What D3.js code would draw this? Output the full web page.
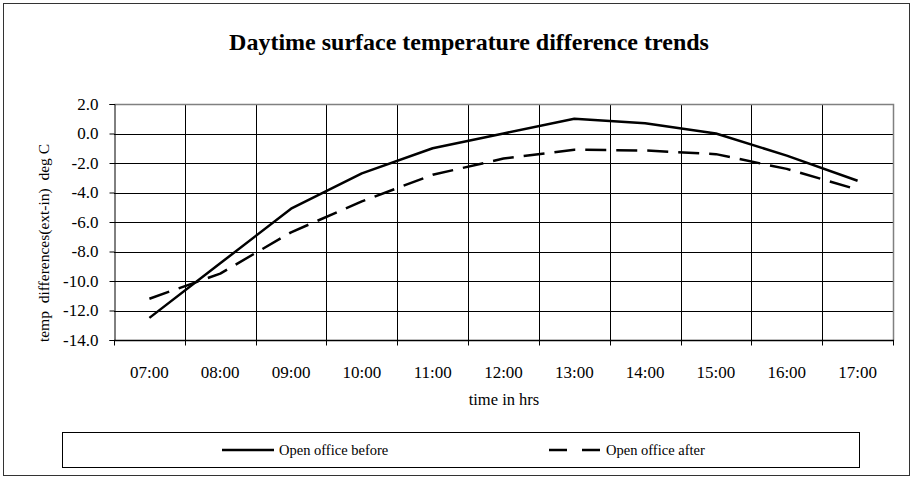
<!DOCTYPE html>
<html>
  <head>
    <meta charset="utf-8">
    <style>
      body { margin: 0; background: #fff; }
      svg { display: block; font-family: "Liberation Serif", "Times New Roman", serif; }
      .grid line { stroke: #000; stroke-width: 1px; shape-rendering: crispEdges; }
      .tick-lbl { font-size: 17px; fill: #000; }
      .series { fill: none; stroke: #000; stroke-width: 2.5px; stroke-linejoin: round; }
    </style>
  </head>
  <body>
    <svg id="chart"></svg>
    <script src="https://cdnjs.cloudflare.com/ajax/libs/d3/7.8.5/d3.min.js"></script>
    <script>
      var hours = ["07:00","08:00","09:00","10:00","11:00","12:00","13:00","14:00","15:00","16:00","17:00"];
      var before = [-12.5, -8.8, -5.1, -2.7, -1.0, 0.0, 1.0, 0.7, 0.0, -1.5, -3.2];
      var after = [-11.2, -9.5, -6.7, -4.6, -2.8, -1.7, -1.1, -1.15, -1.4, -2.4, -3.8];
      var yTicks = [2, 0, -2, -4, -6, -8, -10, -12, -14];
      var seriesNames = ["Open office before", "Open office after"];

      var W = 914, H = 479,
          plot = {left: 114, right: 893, top: 104, bottom: 340};

      var svg = d3.select("#chart").attr("width", W).attr("height", H);

      // outer chart border
      svg.append("rect")
         .attr("x", 3.5).attr("y", 3.5).attr("width", 906).attr("height", 472)
         .style("fill", "#fff").style("stroke", "#333").style("stroke-width", 1);

      svg.append("text")
         .attr("x", 469).attr("y", 50)
         .attr("text-anchor", "middle")
         .style("font-size", "24px").style("font-weight", "bold")
         .text("Daytime surface temperature difference trends");

      var x = d3.scaleBand().domain(hours).range([plot.left, plot.right]).paddingInner(0).paddingOuter(0);
      var y = d3.scaleLinear().domain([-14, 2]).range([plot.bottom, plot.top]);

      var g = svg.append("g").attr("class", "grid");

      // horizontal gridlines
      g.selectAll("line.h").data(yTicks.slice(1)).enter().append("line")
       .attr("x1", plot.left).attr("x2", plot.right)
       .attr("y1", function(d){ return Math.round(y(d)) + 0.5; })
       .attr("y2", function(d){ return Math.round(y(d)) + 0.5; });

      // vertical gridlines at category boundaries
      var bounds = hours.slice(1).map(function(h){ return x(h); });
      g.selectAll("line.v").data(bounds).enter().append("line")
       .attr("x1", function(d){ return Math.round(d) + 0.5; })
       .attr("x2", function(d){ return Math.round(d) + 0.5; })
       .attr("y1", plot.top).attr("y2", plot.bottom + 5);

      // plot border: grey top and right
      svg.append("path")
         .attr("d", "M" + (plot.left + 0.5) + "," + (Math.round(y(2)) + 0.5) + "H" + (plot.right + 0.5) + "V" + (plot.bottom + 0.5))
         .style("fill", "none").style("stroke", "#808080").style("stroke-width", 1.5);

      // y axis
      var yAxis = svg.append("g").attr("transform", "translate(" + (plot.left + 0.5) + ",0)")
        .call(d3.axisLeft(y).tickValues(yTicks).tickSize(5).tickPadding(11)
          .tickFormat(function(d){ return d.toFixed(1); }));
      yAxis.attr("font-family", null).attr("font-size", null);
      yAxis.select(".domain").attr("stroke", "#000");
      yAxis.selectAll("text").attr("class", "tick-lbl");

      // x axis
      var xAxis = svg.append("g").attr("transform", "translate(0," + (Math.round(y(-14)) + 0.5) + ")");
      xAxis.append("line").attr("x1", plot.left).attr("x2", plot.right + 1).style("stroke", "#000").style("stroke-width", 1.5);
      xAxis.selectAll("line.tk").data([plot.left, plot.right].concat(bounds)).enter().append("line")
           .attr("x1", function(d){ return Math.round(d) + 0.5; })
           .attr("x2", function(d){ return Math.round(d) + 0.5; })
           .attr("y1", 0).attr("y2", 5).style("stroke", "#000");
      xAxis.selectAll("text").data(hours).enter().append("text")
           .attr("class", "tick-lbl")
           .attr("x", function(d){ return x(d) + x.bandwidth() / 2; })
           .attr("y", 37).attr("text-anchor", "middle")
           .text(function(d){ return d; });

      svg.append("text")
         .attr("x", 504).attr("y", 405).attr("text-anchor", "middle")
         .style("font-size", "16.5px")
         .text("time in hrs");

      svg.append("text")
         .attr("transform", "translate(49,243)rotate(-90)")
         .attr("text-anchor", "middle")
         .style("font-size", "15.5px").style("white-space", "pre")
         .text("temp  differences(ext-in)  deg C");

      var line = d3.line()
        .x(function(d, i){ return x(hours[i]) + x.bandwidth() / 2; })
        .y(function(d){ return y(d); });

      svg.append("path").datum(before).attr("class", "series").attr("d", line);
      svg.append("path").datum(after).attr("class", "series")
         .style("stroke-dasharray", "21,10").attr("d", line);

      // legend
      var leg = svg.append("g");
      leg.append("rect").attr("x", 62.5).attr("y", 432.5).attr("width", 797).attr("height", 35)
         .style("fill", "#fff").style("stroke", "#000");
      var legItems = [{x: 222, dash: null}, {x: 549, dash: "18,15"}];
      legItems.forEach(function(it, i){
        leg.append("line").attr("x1", it.x).attr("x2", it.x + 52).attr("y1", 450).attr("y2", 450)
           .style("stroke", "#000").style("stroke-width", 2.5).style("stroke-dasharray", it.dash);
        leg.append("text").attr("x", it.x + 57).attr("y", 455)
           .style("font-size", "14.5px").text(seriesNames[i]);
      });
    </script>
  </body>
</html>
